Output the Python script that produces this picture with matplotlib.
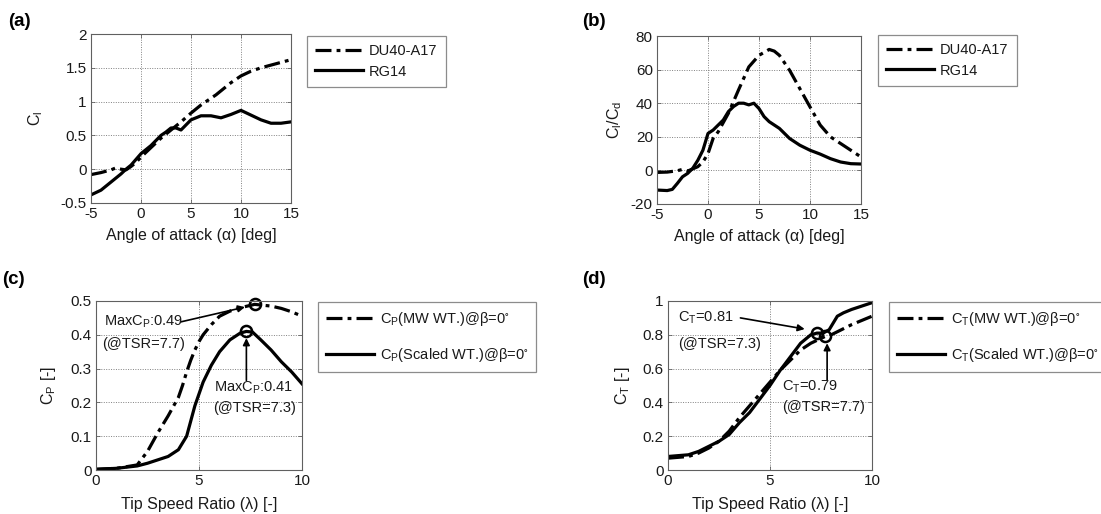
import matplotlib
matplotlib.use("Agg")
import matplotlib.pyplot as plt
from matplotlib.ticker import FuncFormatter

plt.rcParams['font.family'] = ['Liberation Sans', 'DejaVu Sans']
plt.rcParams['mathtext.fontset'] = 'custom'
plt.rcParams['mathtext.rm'] = 'Liberation Sans'
plt.rcParams['mathtext.it'] = 'Liberation Sans:italic'
plt.rcParams['mathtext.default'] = 'regular'

# ---------------- data ----------------
# (a) lift coefficient
a_alpha_du = [-5, -4, -3, -2.5, -2, -1.5, -1, -0.5, 0, 1, 2, 3, 4, 5, 6, 7, 7.5, 8, 9, 10, 11, 12, 13, 14, 15]
a_cl_du = [-0.08, -0.05, -0.01, 0.02, 0.0, -0.01, 0.04, 0.1, 0.18, 0.32, 0.46, 0.58, 0.7, 0.83, 0.95, 1.05, 1.1, 1.16, 1.28, 1.38, 1.45, 1.5, 1.54, 1.58, 1.62]
a_alpha_rg = [-5, -4, -3, -2, -1.5, -1, 0, 1, 2, 2.5, 3, 3.5, 4, 5, 6, 7, 8, 9, 10, 11, 12, 13, 14, 15]
a_cl_rg = [-0.38, -0.31, -0.19, -0.07, 0.0, 0.06, 0.23, 0.35, 0.5, 0.55, 0.61, 0.61, 0.58, 0.73, 0.79, 0.79, 0.76, 0.81, 0.87, 0.8, 0.73, 0.68, 0.68, 0.7]

# (b) lift-to-drag ratio
b_alpha_du = [-5, -4, -3, -2.5, -2, -1, -0.5, 0, 0.5, 1, 2, 3, 4, 5, 6, 6.5, 7, 8, 9, 10, 11, 12, 13, 14, 15]
b_cld_du = [-1.2, -1.0, -0.2, 0.6, -0.4, 2.2, 5, 10, 19, 23, 34, 48, 61.6, 68.5, 72, 71, 68.5, 59.6, 48.7, 37.8, 27, 20, 16, 12, 8]
b_alpha_rg = [-5, -4, -3.5, -3, -2.5, -2, -1.5, -1, -0.5, 0, 0.5, 1, 1.5, 2, 2.5, 3, 3.5, 4, 4.5, 5, 5.5, 6, 7, 8, 9, 10, 11, 12, 13, 14, 15]
b_cld_rg = [-11.7, -12, -11.3, -7.7, -3.8, -1.8, 1.2, 6, 12, 22, 24, 27, 30, 35, 38, 40, 40, 39, 40, 36.8, 32, 29, 25, 19, 15, 12, 9.7, 7, 5, 4, 3.8]

# (c) power coefficient
c_tsr_mw = [0, 1, 2, 2.5, 3, 3.5, 4, 4.2, 4.4, 4.6, 4.8, 5.0, 5.2, 5.6, 6, 6.5, 7, 7.7, 8.5, 9, 9.5, 10]
c_cp_mw = [0.002, 0.005, 0.015, 0.055, 0.11, 0.16, 0.215, 0.25, 0.29, 0.325, 0.355, 0.38, 0.4, 0.43, 0.455, 0.47, 0.48, 0.49, 0.485, 0.478, 0.468, 0.455]
c_tsr_sc = [0, 1, 2, 2.5, 3, 3.5, 4, 4.4, 4.8, 5.2, 5.6, 6, 6.5, 7, 7.3, 7.6, 8, 8.5, 9, 9.5, 10]
c_cp_sc = [0.002, 0.005, 0.012, 0.02, 0.03, 0.04, 0.06, 0.1, 0.19, 0.26, 0.31, 0.35, 0.385, 0.405, 0.41, 0.408, 0.385, 0.355, 0.32, 0.29, 0.255]

# (d) thrust coefficient
d_tsr_mw = [0, 0.5, 1, 1.5, 2, 2.5, 3, 3.5, 4, 4.5, 5, 5.5, 6, 6.5, 7, 7.7, 8, 8.5, 9, 9.5, 10]
d_ct_mw = [0.07, 0.075, 0.08, 0.1, 0.13, 0.17, 0.23, 0.31, 0.38, 0.45, 0.52, 0.59, 0.65, 0.71, 0.75, 0.79, 0.8, 0.83, 0.86, 0.885, 0.91]
d_tsr_sc = [0, 0.5, 1, 1.5, 2, 2.5, 3, 3.5, 4, 4.5, 5, 5.5, 6, 6.5, 7, 7.3, 7.6, 7.9, 8.1, 8.3, 8.6, 9, 9.5, 10]
d_ct_sc = [0.08, 0.085, 0.09, 0.11, 0.14, 0.17, 0.21, 0.28, 0.34, 0.42, 0.5, 0.59, 0.67, 0.75, 0.8, 0.81, 0.81, 0.83, 0.87, 0.91, 0.93, 0.95, 0.97, 0.99]

# markers for maxima / operating points
c_mark_x = [7.7, 7.3]
c_mark_y = [0.49, 0.41]
d_mark_x = [7.3, 7.7]
d_mark_y = [0.81, 0.79]

leg_ab = ['DU40-A17', 'RG14']
leg_c = [r'C$_P$(MW WT.)@$\beta$=0$^{\circ}$', r'C$_P$(Scaled WT.)@$\beta$=0$^{\circ}$']
leg_d = [r'C$_T$(MW WT.)@$\beta$=0$^{\circ}$', r'C$_T$(Scaled WT.)@$\beta$=0$^{\circ}$']

# ---------------- style ----------------
W, H = 1101, 514
fig = plt.figure(figsize=(W / 100, H / 100), dpi=100)
DASHDOT = (0, (5, 1.6, 1.2, 1.6))
LW = 2.3
FS = 10.5      # legend / annotation text
FT = 11        # tick labels
FL = 11.5      # axis labels
TXT = '#1a1a1a'


def px_axes(x0, y0, x1, y1):
    return fig.add_axes([x0 / W, 1 - y1 / H, (x1 - x0) / W, (y1 - y0) / H])


def style(ax):
    ax.grid(True, linestyle=(0, (1, 1.5)), color='#808080', linewidth=0.7)
    ax.set_axisbelow(True)
    for s in ax.spines.values():
        s.set_color('#606060')
        s.set_linewidth(0.8)
    ax.tick_params(direction='in', length=3, width=0.6, top=True, right=True,
                   labelsize=FT, colors='#606060', labelcolor=TXT, pad=3)
    ax.xaxis.set_major_formatter(FuncFormatter(lambda v, p: '{:g}'.format(v)))
    ax.yaxis.set_major_formatter(FuncFormatter(lambda v, p: '{:g}'.format(v)))


def legend_px(ax, labels, x0, y0, spacing, hlen):
    lg = ax.legend(labels, loc='upper left', bbox_to_anchor=(x0 / W, 1 - y0 / H),
                   bbox_transform=fig.transFigure, fontsize=FS, frameon=True,
                   fancybox=False, edgecolor='#707070', handlelength=hlen,
                   handletextpad=0.4, labelspacing=spacing, borderpad=0.55,
                   borderaxespad=0)
    lg.get_frame().set_linewidth(0.9)
    for t in lg.get_texts():
        t.set_color(TXT)
    return lg


# ---------------- (a) ----------------
axa = px_axes(91, 34, 291, 203)
axa.plot(a_alpha_du, a_cl_du, color='k', lw=LW, linestyle=DASHDOT)
axa.plot(a_alpha_rg, a_cl_rg, color='k', lw=LW, linestyle='-')
axa.set_xlim(-5, 15)
axa.set_ylim(-0.5, 2)
axa.set_xticks([-5, 0, 5, 10, 15])
axa.set_yticks([-0.5, 0, 0.5, 1, 1.5, 2])
style(axa)
axa.set_xlabel('Angle of attack (α) [deg]', fontsize=FL, color=TXT, labelpad=5)
axa.set_ylabel(r'C$_l$', fontsize=FL, color=TXT, labelpad=11)
legend_px(axa, leg_ab, 307, 36, 0.45, 3.3)
fig.text(8 / W, 1 - 22 / H, '(a)', fontsize=13.5, fontweight='bold', va='center')

# ---------------- (b) ----------------
axb = px_axes(657, 36, 861, 204)
axb.plot(b_alpha_du, b_cld_du, color='k', lw=LW, linestyle=DASHDOT)
axb.plot(b_alpha_rg, b_cld_rg, color='k', lw=LW, linestyle='-')
axb.set_xlim(-5, 15)
axb.set_ylim(-20, 80)
axb.set_xticks([-5, 0, 5, 10, 15])
axb.set_yticks([-20, 0, 20, 40, 60, 80])
style(axb)
axb.set_xlabel('Angle of attack (α) [deg]', fontsize=FL, color=TXT, labelpad=5)
axb.set_ylabel(r'C$_l$/C$_d$', fontsize=FL, color=TXT, labelpad=5)
legend_px(axb, leg_ab, 878, 35, 0.45, 3.3)
fig.text(582 / W, 1 - 22 / H, '(b)', fontsize=13.5, fontweight='bold', va='center')

# ---------------- (c) ----------------
axc = px_axes(96, 301, 302, 470)
axc.plot(c_tsr_mw, c_cp_mw, color='k', lw=LW, linestyle=DASHDOT)
axc.plot(c_tsr_sc, c_cp_sc, color='k', lw=LW, linestyle='-')
axc.plot(c_mark_x, c_mark_y, linestyle='none', marker='o', ms=8, mfc='none',
         mec='k', mew=1.8, clip_on=False)
axc.set_xlim(0, 10)
axc.set_ylim(0, 0.5)
axc.set_xticks([0, 5, 10])
axc.set_yticks([0, 0.1, 0.2, 0.3, 0.4, 0.5])
style(axc)
axc.set_xlabel('Tip Speed Ratio (λ) [-]', fontsize=FL, color=TXT, labelpad=6)
axc.set_ylabel(r'C$_P$ [-]', fontsize=FL, color=TXT, labelpad=9)
arrow = dict(arrowstyle='-|>', color='k', lw=1.2, mutation_scale=10, shrinkA=0, shrinkB=0)
axc.annotate('', xy=(7.23, 0.482), xytext=(4.1, 0.438), arrowprops=arrow)
axc.annotate('', xy=(7.3, 0.39), xytext=(7.3, 0.265), arrowprops=arrow)
tk = dict(fontsize=FS, color=TXT, va='center', ha='left')
axc.text(0.39, 0.438, r'MaxC$_P$:0.49', **tk)
axc.text(0.3, 0.373, '(@TSR=7.7)', **tk)
axc.text(5.73, 0.243, r'MaxC$_P$:0.41', **tk)
axc.text(5.7, 0.183, '(@TSR=7.3)', **tk)
legend_px(axc, leg_c, 318, 302, 1.25, 3.3)
fig.text(2 / W, 1 - 280 / H, '(c)', fontsize=13.5, fontweight='bold', va='center')

# ---------------- (d) ----------------
axd = px_axes(668, 301, 872, 470)
axd.plot(d_tsr_mw, d_ct_mw, color='k', lw=LW, linestyle=DASHDOT)
axd.plot(d_tsr_sc, d_ct_sc, color='k', lw=LW, linestyle='-')
axd.plot(d_mark_x, d_mark_y, linestyle='none', marker='o', ms=8, mfc='none',
         mec='k', mew=1.8)
axd.set_xlim(0, 10)
axd.set_ylim(0, 1)
axd.set_xticks([0, 5, 10])
axd.set_yticks([0, 0.2, 0.4, 0.6, 0.8, 1])
style(axd)
axd.set_xlabel('Tip Speed Ratio (λ) [-]', fontsize=FL, color=TXT, labelpad=6)
axd.set_ylabel(r'C$_T$ [-]', fontsize=FL, color=TXT, labelpad=8)
axd.annotate('', xy=(6.7, 0.834), xytext=(3.55, 0.9), arrowprops=arrow)
axd.annotate('', xy=(7.8, 0.75), xytext=(7.8, 0.53), arrowprops=arrow)
axd.text(0.49, 0.9, r'C$_T$=0.81', **tk)
axd.text(0.49, 0.745, '(@TSR=7.3)', **tk)
axd.text(5.6, 0.49, r'C$_T$=0.79', **tk)
axd.text(5.6, 0.37, '(@TSR=7.7)', **tk)
legend_px(axd, leg_d, 889, 302, 1.25, 3.3)
fig.text(582 / W, 1 - 280 / H, '(d)', fontsize=13.5, fontweight='bold', va='center')

fig.savefig('out.png', dpi=100, facecolor='white')
